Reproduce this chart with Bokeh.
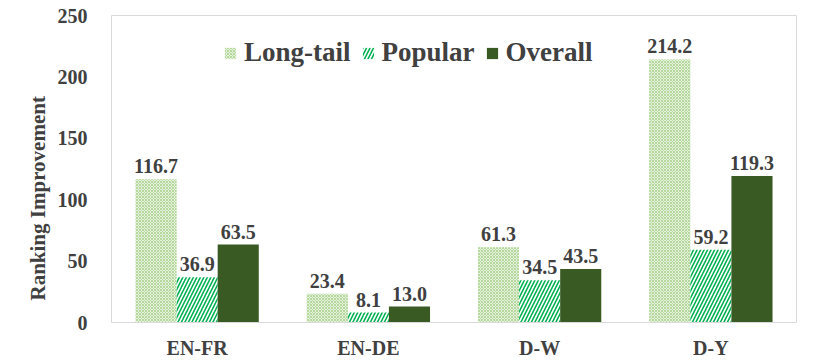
from bokeh.plotting import figure
from bokeh.models import ColumnDataSource, FactorRange, Legend, LegendItem, LabelSet, Title
from bokeh.transform import dodge
from bokeh.embed import file_html
from bokeh.resources import INLINE

categories = ["EN-FR", "EN-DE", "D-W", "D-Y"]
long_tail = [116.7, 23.4, 61.3, 214.2]
popular = [36.9, 8.1, 34.5, 59.2]
overall = [63.5, 13.0, 43.5, 119.3]
y_ticks = [0, 50, 100, 150, 200, 250]
y_title = "Ranking Improvement"

FONT = "Liberation Serif"
TXT = "#404040"

src = ColumnDataSource(dict(
    cat=categories,
    lt=long_tail, pop=popular, ov=overall,
    lt_t=[f"{v:.1f}" for v in long_tail],
    pop_t=[f"{v:.1f}" for v in popular],
    ov_t=[f"{v:.1f}" for v in overall],
))

p = figure(x_range=FactorRange(factors=categories), y_range=(0, 250),
           frame_width=685, frame_height=307,
           min_border_left=111, min_border_right=10, min_border_top=15, min_border_bottom=20,
           output_backend="svg", toolbar_location=None)

w = 0.24
r1 = p.vbar(x=dodge("cat", -w, range=p.x_range), top="lt", width=w, source=src,
            fill_color="#e4f0dc", line_color=None,
            hatch_pattern="diagonal_cross", hatch_color="#b5d99c", hatch_scale=3, hatch_weight=1)
r2 = p.vbar(x=dodge("cat", 0, range=p.x_range), top="pop", width=w, source=src,
            fill_color="white", line_color=None,
            hatch_pattern="right_diagonal_line", hatch_color="#00b050", hatch_scale=7, hatch_weight=1.6)
r3 = p.vbar(x=dodge("cat", w, range=p.x_range), top="ov", width=w, source=src,
            fill_color="#3a5a24", line_color=None)

for col, txt, off in [("lt", "lt_t", -w), ("pop", "pop_t", 0), ("ov", "ov_t", w)]:
    lbl = LabelSet(x=dodge("cat", off, range=p.x_range), y=col, text=txt, source=src,
                   text_align="center", text_baseline="alphabetic", y_offset=6,
                   text_font=FONT, text_font_style="bold", text_font_size="20px",
                   text_color=TXT)
    p.add_layout(lbl)

legend = Legend(items=[LegendItem(label="Long-tail", renderers=[r1]),
                       LegendItem(label="Popular", renderers=[r2]),
                       LegendItem(label="Overall", renderers=[r3])],
                orientation="horizontal", location=(112, 254),
                padding=0, margin=0, spacing=10, glyph_width=14, glyph_height=14,
                label_standoff=7, label_height=27,
                label_text_font=FONT, label_text_font_style="bold",
                label_text_font_size="27px", label_text_color=TXT,
                background_fill_alpha=0, border_line_color=None)
p.add_layout(legend)

ytitle = Title(text=y_title, align="left", offset=22, standoff=10,
               text_font=FONT, text_font_style="bold", text_font_size="21px",
               text_color=TXT)
p.add_layout(ytitle, "left")

p.xgrid.grid_line_color = None
p.ygrid.grid_line_color = None
p.outline_line_color = "#d9d9d9"

p.yaxis.ticker = y_ticks
p.yaxis.axis_line_color = None
p.yaxis.major_tick_line_color = None
p.yaxis.minor_tick_line_color = None
p.yaxis.major_label_standoff = 18

for ax in (p.xaxis, p.yaxis):
    ax.major_label_text_font = FONT
    ax.major_label_text_font_style = "bold"
    ax.major_label_text_color = TXT
p.yaxis.major_label_text_font_size = "20px"
p.xaxis.major_label_text_font_size = "20px"
p.xaxis.axis_line_color = "#d9d9d9"
p.xaxis.major_tick_line_color = None
p.xaxis.minor_tick_line_color = None
p.xaxis.major_label_standoff = 8

open("out.html", "w").write(file_html(p, INLINE))
